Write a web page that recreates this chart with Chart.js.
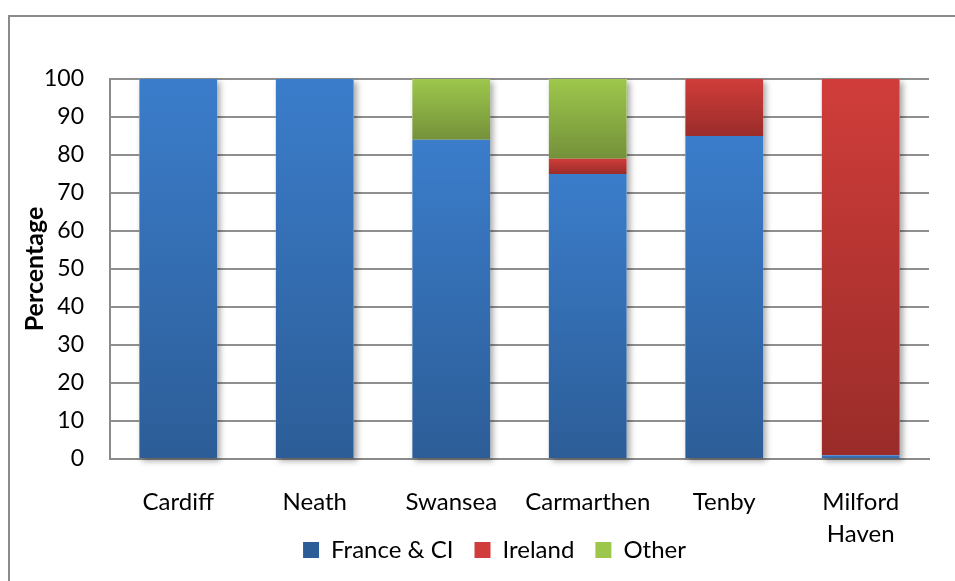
<!DOCTYPE html>
<html>
<head>
<meta charset="utf-8">
<script src="https://cdn.jsdelivr.net/npm/chart.js@4"></script>
<style>
  html, body { margin: 0; padding: 0; background: #fff; overflow: hidden; }
  #frame { position: absolute; left: 8px; top: 15px; width: 1000px; height: 620px; border-left: 2px solid #8a8a8a; border-top: 2px solid #8a8a8a; }
  #wrap { position: absolute; left: 0; top: 0; width: 955px; height: 581px; }
</style>
</head>
<body>
<div id="frame"></div>
<div id="wrap"><canvas id="myChart"></canvas></div>
<script>
const towns = ['Cardiff', 'Neath', 'Swansea', 'Carmarthen', 'Tenby', ['Milford', 'Haven']];
const franceCI = [100, 100, 84, 75, 85, 1];
const ireland = [0, 0, 0, 4, 15, 99];
const other = [0, 0, 16, 21, 0, 0];
const yTicks = [0, 10, 20, 30, 40, 50, 60, 70, 80, 90, 100];

const fontName = 'Lato, "Open Sans", sans-serif';

// gradient per stacked segment, light at top, dark at bottom
function segFill(light, dark) {
    return function (c) {
        const chart = c.chart;
        const y = chart.scales.y;
        if (!y || c.dataIndex === undefined || c.type !== 'data') return light;
        let base = 0;
        for (let d = 0; d < c.datasetIndex; d++) base += chart.data.datasets[d].data[c.dataIndex];
        const v = chart.data.datasets[c.datasetIndex].data[c.dataIndex];
        const y0 = y.getPixelForValue(base + v);
        const y1 = y.getPixelForValue(base);
        if (!isFinite(y0) || !isFinite(y1) || y0 === y1) return light;
        const g = chart.ctx.createLinearGradient(0, y0, 0, y1);
        g.addColorStop(0, light);
        g.addColorStop(1, dark);
        return g;
    };
}

// let the two-line label run under the axis box and nudge the legend right
const tweakLayout = {
    id: 'tweakLayout',
    afterLayout(chart) {
        chart.scales.x.bottom = chart.height;
        chart.legend.left += 20;
        chart.legend.right += 20;
    }
};

// soft shadow behind each whole stack
const stackShadow = {
    id: 'stackShadow',
    beforeDatasetsDraw(chart) {
        const c = chart.ctx;
        const metas = chart.data.datasets.map((d, i) => chart.getDatasetMeta(i));
        c.save();
        c.shadowColor = 'rgba(0,0,0,0.35)';
        c.shadowBlur = 6;
        c.shadowOffsetX = 3;
        c.shadowOffsetY = 3;
        c.fillStyle = '#fff';
        metas[0].data.forEach((bar, i) => {
            let top = bar.y;
            metas.forEach(m => { if (m.data[i].y < top) top = m.data[i].y; });
            c.fillRect(bar.x - bar.width / 2, top, bar.width, bar.base - top);
        });
        c.restore();
    }
};

const ctx = document.getElementById('myChart').getContext('2d');
const data = {
    labels: towns,
    datasets: [{
        label: 'France & CI',
        data: franceCI,
        backgroundColor: segFill('#3b7dcb', '#2c5d97'),
        borderWidth: 0
    },
        {
            label: 'Ireland',
            data: ireland,
            backgroundColor: segFill('#d03d3a', '#9a2c29'),
            borderWidth: 0
        },
        {
            label: 'Other',
            data: other,
            backgroundColor: segFill('#9dc74c', '#74913a'),
            borderWidth: 0
        }]
};
const config = {
    type: 'bar',
    data: data,
    plugins: [tweakLayout, stackShadow],
    options: {
        responsive: true,
        maintainAspectRatio: false,
        animation: false,
        categoryPercentage: 1,
        barPercentage: 0.57,
        layout: {padding: {top: 79, right: 26, bottom: 9, left: 20}},
        scales: {
            x: {
                stacked: true,
                grid: {display: false},
                border: {display: true, color: '#8a8a8a', width: 2},
                ticks: {color: '#000', padding: 19, maxRotation: 0, autoSkip: false,
                    font: {family: fontName, size: 24, lineHeight: 1.33}},
                afterFit: function (scale) { scale.height = 58; }
            },
            y: {
                stacked: true,
                min: 0,
                max: 100,
                afterBuildTicks: function (scale) { scale.ticks = yTicks.map(v => ({value: v})); },
                afterFit: function (scale) { scale.width = 90; },
                grid: {color: '#8f8f8f', lineWidth: 2, drawTicks: false},
                border: {display: true, color: '#8a8a8a', width: 2},
                ticks: {color: '#000', padding: 26, font: {family: fontName, size: 23}},
                title: {display: true, text: 'Percentage', color: '#000', padding: {top: 0, bottom: 0},
                    font: {family: fontName, size: 25, weight: 'bold'}}
            }
        },
        plugins: {
            legend: {
                position: 'bottom',
                labels: {color: '#000', boxWidth: 16, boxHeight: 16, padding: 21,
                    font: {family: fontName, size: 24}}
            },
            tooltip: {enabled: false}
        }
    }
};
const myChart = new Chart(ctx, config);
</script>
</body>
</html>
